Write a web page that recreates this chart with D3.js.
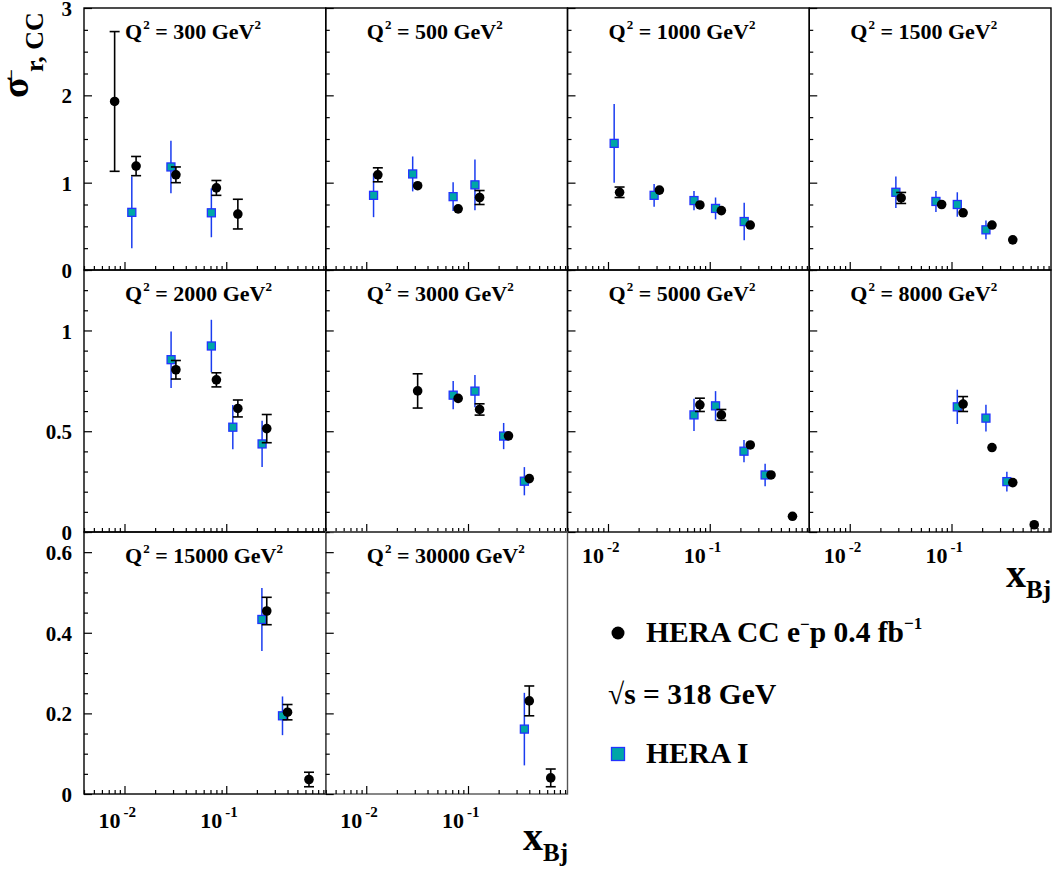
<!DOCTYPE html>
<html><head><meta charset="utf-8">
<script src="https://cdn.jsdelivr.net/npm/d3@7"></script>
<style>body{margin:0;background:#fff}</style>
</head><body>
<svg id="c" width="1055" height="871"></svg>
<script>
// ---------------- data ----------------
const q2Labels = ["300","500","1000","1500","2000","3000","5000","8000","15000","30000"];

// HERA CC e-p 0.4 fb-1 (black circles), one array per Q2 panel
const newX = [
  [0.008, 0.013, 0.032, 0.08, 0.13],
  [0.013, 0.032, 0.08, 0.13],
  [0.013, 0.032, 0.08, 0.13, 0.25],
  [0.032, 0.08, 0.13, 0.25, 0.4],
  [0.032, 0.08, 0.13, 0.25],
  [0.032, 0.08, 0.13, 0.25, 0.4],
  [0.08, 0.13, 0.25, 0.4, 0.65],
  [0.13, 0.25, 0.4, 0.65],
  [0.25, 0.4, 0.65],
  [0.4, 0.65]
];
const newY = [
  [1.93, 1.19, 1.09, 0.94, 0.64],
  [1.09, 0.965, 0.70, 0.83],
  [0.89, 0.915, 0.745, 0.68, 0.515],
  [0.825, 0.75, 0.655, 0.515, 0.345],
  [0.805, 0.755, 0.613, 0.513],
  [0.70, 0.663, 0.608, 0.477, 0.265],
  [0.631, 0.581, 0.432, 0.283, 0.078],
  [0.635, 0.419, 0.245, 0.036],
  [0.454, 0.203, 0.036],
  [0.231, 0.040]
];
const newErr = [
  [0.80, 0.11, 0.09, 0.085, 0.17],
  [0.08, 0.03, 0.03, 0.08],
  [0.06, 0.03, 0.03, 0.03, 0.03],
  [0.063, 0.03, 0.03, 0.03, 0.02],
  [0.046, 0.035, 0.042, 0.07],
  [0.085, 0.015, 0.028, 0.015, 0.015],
  [0.033, 0.027, 0.015, 0.015, 0.01],
  [0.037, 0.015, 0.015, 0.01],
  [0.034, 0.019, 0.018],
  [0.037, 0.022]
];

// HERA I (squares)
const oldX = [
  [0.0118, 0.0286, 0.0714],
  [0.0118, 0.0286, 0.0714, 0.117],
  [0.0115, 0.0284, 0.0700, 0.114, 0.218],
  [0.0284, 0.0703, 0.114, 0.218],
  [0.0287, 0.0714, 0.116, 0.225],
  [0.0715, 0.117, 0.224, 0.358],
  [0.070, 0.114, 0.217, 0.35],
  [0.114, 0.218, 0.35],
  [0.224, 0.357],
  [0.358]
];
const oldY = [
  [0.66, 1.18, 0.655],
  [0.855, 1.10, 0.84, 0.975],
  [1.45, 0.855, 0.795, 0.705, 0.555],
  [0.89, 0.785, 0.75, 0.46],
  [0.855, 0.923, 0.52, 0.437],
  [0.679, 0.699, 0.476, 0.252],
  [0.581, 0.626, 0.401, 0.283],
  [0.621, 0.565, 0.25],
  [0.433, 0.194],
  [0.161]
];
const oldErr = [
  [0.41, 0.30, 0.28],
  [0.25, 0.20, 0.165, 0.29],
  [0.45, 0.13, 0.11, 0.125, 0.215],
  [0.18, 0.12, 0.14, 0.107],
  [0.14, 0.13, 0.11, 0.115],
  [0.07, 0.08, 0.065, 0.07],
  [0.08, 0.073, 0.055, 0.056],
  [0.085, 0.066, 0.049],
  [0.078, 0.048],
  [0.09]
];

const rowYMax = [3, 1.3, 0.65];
const rowYMajor = [[0, 1, 2, 3], [0, 0.5, 1], [0, 0.2, 0.4, 0.6]];
const rowYLabels = [["0", "1", "2", "3"], ["0", "0.5", "1"], ["0", "0.2", "0.4", "0.6"]];
const rowYMinorStep = [0.25, 0.1, 0.05];
const xMajor = [0.01, 0.1];
const xMajorExp = ["-2", "-1"];
const xDomain = [0.004, 0.95];

// ---------------- layout ----------------
const colLeft = [84, 325.75, 567.5, 809.25], colW = 241.75;
const rowTop = [8, 270, 532], rowH = 262;
const FONT = "'Liberation Serif','Times New Roman',serif";
const R = 4.8, SQ = 4;
const svg = d3.select("#c");

const xMinor = [];
for (let n = -3; n <= -1; n++) for (let k = 2; k <= 9; k++) {
  const v = k * Math.pow(10, n);
  if (v >= xDomain[0] && v <= xDomain[1]) xMinor.push(v);
}

q2Labels.forEach((lab, i) => {
  const r = Math.floor(i / 4), c = i % 4;
  const L = colLeft[c], T = rowTop[r], B = T + rowH;
  const x = d3.scaleLog().domain(xDomain).range([L, L + colW]);
  const y = d3.scaleLinear().domain([0, rowYMax[r]]).range([B, T]);
  const g = svg.append("g");

  // frame
  g.append("rect").attr("x", L).attr("y", T).attr("width", colW).attr("height", rowH)
    .attr("fill", "none").attr("stroke", (i === 9) ? "#555" : "#000").attr("stroke-width", 1.4);

  // x ticks (inward)
  const styleAxis = sel => { sel.select(".domain").remove(); sel.selectAll("line").attr("stroke", "#000").attr("stroke-width", 1.2); };
  g.append("g").attr("transform", `translate(0,${B})`)
    .call(d3.axisBottom(x).tickValues(xMinor).tickSizeInner(-4).tickSizeOuter(0).tickFormat("")).call(styleAxis);
  g.append("g").attr("transform", `translate(0,${B})`)
    .call(d3.axisBottom(x).tickValues(xMajor).tickSizeInner(-8).tickSizeOuter(0).tickFormat("")).call(styleAxis);

  // y ticks (inward)
  const yMinor = d3.range(0, rowYMax[r] + 1e-9, rowYMinorStep[r]).filter(v => !rowYMajor[r].some(m => Math.abs(m - v) < 1e-6));
  g.append("g").attr("transform", `translate(${L},0)`)
    .call(d3.axisLeft(y).tickValues(yMinor).tickSizeInner(-4).tickSizeOuter(0).tickFormat("")).call(styleAxis);
  g.append("g").attr("transform", `translate(${L},0)`)
    .call(d3.axisLeft(y).tickValues(rowYMajor[r]).tickSizeInner(-8).tickSizeOuter(0).tickFormat("")).call(styleAxis);

  // y labels on left column
  if (c === 0) {
    const ax = g.append("g").attr("transform", `translate(${L},0)`)
      .call(d3.axisLeft(y).tickValues(rowYMajor[r]).tickSize(0).tickPadding(12)
        .tickFormat((d, k) => rowYLabels[r][k]));
    ax.select(".domain").remove();
    ax.selectAll("text").attr("font-family", FONT).attr("font-weight", "bold")
      .attr("font-size", 21).attr("fill", "#000").attr("dy", "0.36em");
  }

  // x labels below last panel in each column
  if ((r === 2 && c <= 1) || (r === 1 && c >= 2)) {
    const by = B + (r === 2 ? 34 : 31);
    xMajor.forEach((v, k) => {
      const t = g.append("text").attr("x", x(v) - 26).attr("y", by)
        .attr("font-family", FONT).attr("font-weight", "bold").attr("font-size", 22);
      t.append("tspan").text("10");
      t.append("tspan").attr("font-size", 15).attr("dx", 3).attr("dy", -11).text(xMajorExp[k]);
    });
  }

  // Q2 label
  const qt = g.append("text").attr("x", L + 41).attr("y", T + 31)
    .attr("font-family", FONT).attr("font-weight", "bold").attr("font-size", 22);
  qt.append("tspan").text("Q");
  qt.append("tspan").attr("font-size", 13).attr("dx", 1).attr("dy", -10).text("2");
  qt.append("tspan").attr("dy", 10).text(" = " + lab + " GeV");
  qt.append("tspan").attr("font-size", 13).attr("dy", -10).text("2");

  // HERA I: blue error lines + squares
  oldX[i].forEach((xv, k) => {
    const yv = oldY[i][k], e = oldErr[i][k];
    g.append("line").attr("x1", x(xv)).attr("x2", x(xv))
      .attr("y1", y(yv + e)).attr("y2", y(Math.max(0, yv - e)))
      .attr("stroke", "#1a3cf0").attr("stroke-width", 1.5);
  });
  oldX[i].forEach((xv, k) => {
    g.append("rect").attr("x", x(xv) - SQ).attr("y", y(oldY[i][k]) - SQ)
      .attr("width", 2 * SQ).attr("height", 2 * SQ)
      .attr("fill", "#00a6a6").attr("stroke", "#2233ff").attr("stroke-width", 1.3);
  });

  // new data: black error bars with caps + circles
  newX[i].forEach((xv, k) => {
    const yv = newY[i][k], e = newErr[i][k];
    const cx = x(xv), yt = y(yv + e), yb = y(Math.max(0, yv - e)), yc = y(yv);
    if (yc - yt > R - 1) {
      g.append("line").attr("x1", cx).attr("x2", cx).attr("y1", yt).attr("y2", yb)
        .attr("stroke", "#000").attr("stroke-width", 1.6);
      [yt, yb].forEach(yy => g.append("line").attr("x1", cx - 5).attr("x2", cx + 5)
        .attr("y1", yy).attr("y2", yy).attr("stroke", "#000").attr("stroke-width", 1.6));
    }
    g.append("circle").attr("cx", cx).attr("cy", yc).attr("r", R).attr("fill", "#000");
  });
});

// axis titles
function xTitle(xr, yb) {
  const t = svg.append("text").attr("x", xr).attr("y", yb).attr("text-anchor", "end")
    .attr("font-family", FONT).attr("font-weight", "bold");
  t.append("tspan").attr("font-size", 40).text("x");
  t.append("tspan").attr("font-size", 25).attr("dy", 11).text("Bj");
}
xTitle(1051, 587);
xTitle(568, 850);

svg.append("text").attr("transform", "translate(28,98) rotate(-90)")
  .attr("font-family", FONT).attr("font-weight", "bold").attr("font-size", 38).text("σ");
svg.append("text").attr("transform", "translate(17,79) rotate(-90)")
  .attr("font-family", FONT).attr("font-weight", "bold").attr("font-size", 17).text("−");
svg.append("text").attr("transform", "translate(43,72) rotate(-90)")
  .attr("font-family", FONT).attr("font-weight", "bold").attr("font-size", 26).text("r, CC");

// legend
svg.append("circle").attr("cx", 618).attr("cy", 633).attr("r", 6.5).attr("fill", "#000");
const l1 = svg.append("text").attr("x", 646).attr("y", 642)
  .attr("font-family", FONT).attr("font-weight", "bold").attr("font-size", 29.5);
l1.append("tspan").text("HERA CC e");
l1.append("tspan").attr("font-size", 17).attr("dy", -12).text("−");
l1.append("tspan").attr("dy", 12).text("p 0.4 fb");
l1.append("tspan").attr("font-size", 17).attr("dy", -13).text("−1");
svg.append("text").attr("x", 608).attr("y", 704)
  .attr("font-family", FONT).attr("font-weight", "bold").attr("font-size", 29.5).text("√s = 318 GeV");
svg.append("rect").attr("x", 611.5).attr("y", 747.5).attr("width", 13).attr("height", 13)
  .attr("fill", "#00a6a6").attr("stroke", "#2233ff").attr("stroke-width", 1.3);
svg.append("text").attr("x", 646).attr("y", 763)
  .attr("font-family", FONT).attr("font-weight", "bold").attr("font-size", 29.5).text("HERA I");
</script>
</body></html>
